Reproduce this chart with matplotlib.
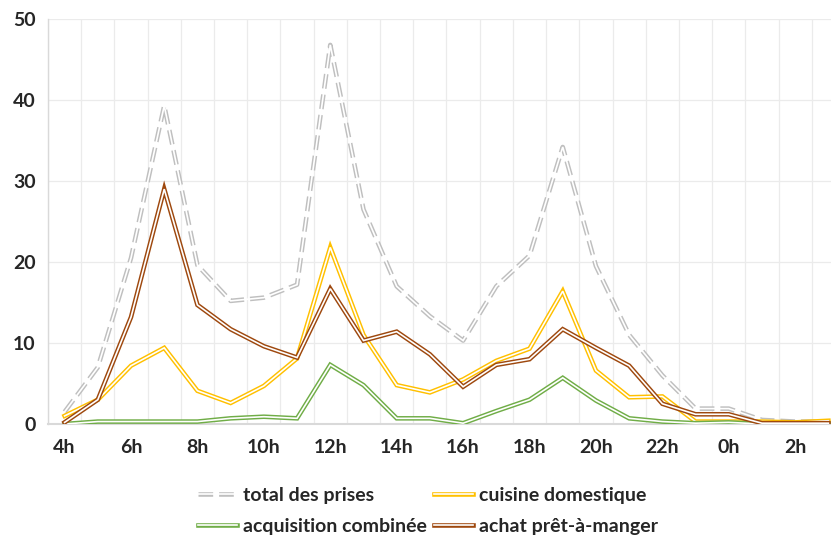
import matplotlib
matplotlib.use("Agg")
import matplotlib.pyplot as plt

hours = ["4h", "5h", "6h", "7h", "8h", "9h", "10h", "11h", "12h", "13h", "14h", "15h",
         "16h", "17h", "18h", "19h", "20h", "21h", "22h", "23h", "0h", "1h", "2h", "3h"]
total = [1.5, 7, 20.5, 39.3, 19.6, 15.2, 15.6, 17.2, 46.8, 26.5, 17, 13.3,
         10.3, 17, 20.8, 34.2, 19.5, 11, 6, 1.9, 1.9, 0.5, 0.3, 0.3]
cuisine = [1, 3, 7.2, 9.4, 4.1, 2.6, 4.7, 8.1, 21.8, 11, 4.8, 3.9,
           5.5, 7.8, 9.3, 16.4, 6.6, 3.3, 3.4, 0.3, 0.3, 0.3, 0.2, 0.4]
acquisition = [0, 0.3, 0.3, 0.3, 0.3, 0.7, 0.9, 0.7, 7.3, 4.8, 0.7, 0.7,
               0.1, 1.6, 3, 5.7, 2.9, 0.7, 0.3, 0.1, 0.2, 0, 0, 0]
achat = [0.2, 3, 13.2, 29, 14.7, 11.7, 9.6, 8.2, 16.7, 10.3, 11.4, 8.6,
         4.6, 7.3, 8, 11.7, 9.4, 7.2, 2.5, 1.2, 1.2, 0.1, 0.1, 0.1]

series = [
    ("total des prises", total, "#BFBFBF", True),
    ("cuisine domestique", cuisine, "#FFC000", False),
    ("acquisition combinée", acquisition, "#70AD47", False),
    ("achat prêt-à-manger", achat, "#9E480E", False),
]

plt.rcParams["font.family"] = ["Lato", "DejaVu Sans"]
plt.rcParams["font.weight"] = "bold"

fig = plt.figure(figsize=(8.31, 5.40), dpi=100)
ax = fig.add_axes([48/831, 116/540, 797/831, 405/540])

x = list(range(len(hours)))
outer_w = 3.3
inner_w = 1.2
handles = {}
for name, vals, col, dashed in series:
    if dashed:
        o, = ax.plot(x, vals, color=col, lw=outer_w, dashes=(3.2, 1.3), zorder=3)
    else:
        o, = ax.plot(x, vals, color=col, lw=outer_w, zorder=3, solid_joinstyle="miter")
    i, = ax.plot(x, vals, color="white", lw=inner_w, zorder=3, solid_joinstyle="miter")
    handles[name] = (o, i)

ax.set_xlim(-0.5, 23.5)
ax.set_ylim(0, 50)
ax.set_yticks([0, 10, 20, 30, 40, 50])
ax.set_xticks(x[::2])
ax.set_xticklabels(hours[::2])
ax.grid(False)
for k in range(-1, 24):
    ax.axvline(k + 0.5, color="#EBEBEB", lw=0.9, zorder=1)
for yv in [10, 20, 30, 40, 50]:
    ax.axhline(yv, color="#EBEBEB", lw=0.9, zorder=1)
ax.tick_params(axis="both", which="both", length=0, labelsize=14, colors="#262626")
ax.tick_params(axis="x", pad=11)
ax.tick_params(axis="y", pad=9)
for lab in ax.get_xticklabels() + ax.get_yticklabels():
    lab.set_fontweight("bold")
for s in ["top", "right"]:
    ax.spines[s].set_visible(False)
ax.spines["left"].set_color("#D9D9D9")
ax.spines["left"].set_linewidth(1.0)
ax.spines["bottom"].set_color("#D9D9D9")
ax.spines["bottom"].set_linewidth(1.5)
ax.spines["bottom"].set_zorder(2)

order = ["total des prises", "acquisition combinée", "cuisine domestique", "achat prêt-à-manger"]
leg = fig.legend([handles[n] for n in order], order, loc="center",
                 bbox_to_anchor=(428/831, 29/540),
                 ncol=2, frameon=False, handlelength=2.0,
                 handletextpad=0.3, columnspacing=0.4, labelspacing=0.7,
                 prop={"weight": "bold", "size": 14})
for t in leg.get_texts():
    t.set_color("#262626")

fig.savefig("out.png", dpi=100)
